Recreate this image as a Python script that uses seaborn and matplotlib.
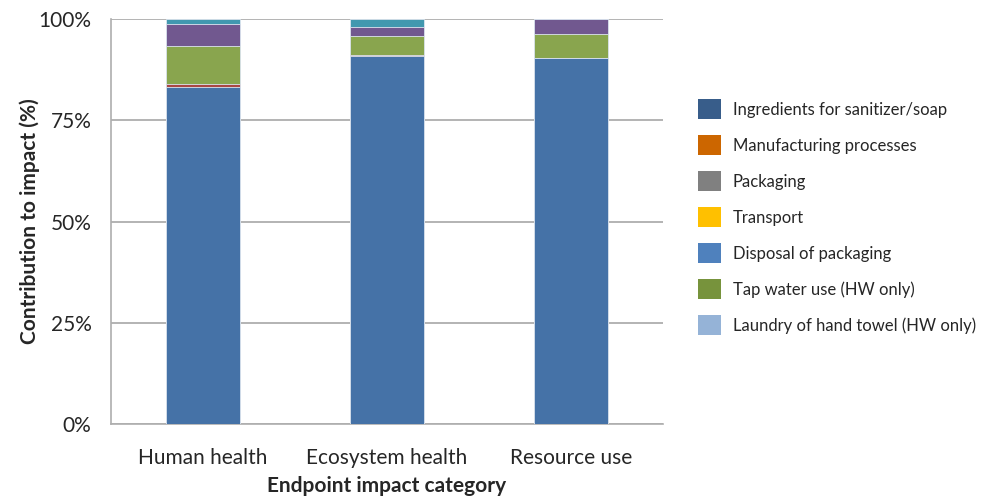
import numpy as np
import pandas as pd
import matplotlib
matplotlib.use('Agg')
import matplotlib.pyplot as plt
import seaborn as sns
from matplotlib.patches import Patch

# --- Data (share of endpoint impact, %) ---
categories = ['Human health', 'Ecosystem health', 'Resource use']
ingredients = [83.3, 90.8, 90.3]
manufacturing = [0.6, 0.4, 0.1]
packaging = [9.5, 4.7, 6.0]
transport = [5.4, 2.2, 3.6]
disposal = [1.2, 1.9, 0.0]

segment_names = ['Ingredients', 'Manufacturing', 'Packaging', 'Transport', 'Disposal']
segment_values = [ingredients, manufacturing, packaging, transport, disposal]
bar_colors = ['#4572A7', '#AA4643', '#89A54E', '#71588F', '#4198AF']

legend_labels = ['Ingredients for sanitizer/soap', 'Manufacturing processes', 'Packaging',
                 'Transport', 'Disposal of packaging', 'Tap water use (HW only)',
                 'Laundry of hand towel (HW only)']
legend_colors = ['#385D8A', '#CC6600', '#808080', '#FFC000', '#4F81BD', '#77933C', '#95B3D7']

sns.set_theme(style="white")
plt.rcParams['font.family'] = ['Lato', 'DejaVu Sans']

# cumulative tops, drawn from the top segment down so lower ones overlay
df = pd.DataFrame(dict(zip(segment_names, segment_values)), index=categories)
cum = df.cumsum(axis=1)

fig = plt.figure(figsize=(9.88, 4.97), dpi=100)
ax = fig.add_axes([111 / 988, 73 / 497, 552 / 988, 405 / 497])

for name, color in reversed(list(zip(segment_names, bar_colors))):
    sns.barplot(x=categories, y=cum[name].values, color=color, saturation=1, width=0.4,
                edgecolor='#dde6f0', linewidth=0.6, ax=ax, zorder=3)

ax.set_ylim(0, 100)
ax.set_xlim(-0.5, 2.5)
ax.set_yticks([0, 25, 50, 75, 100])
ax.set_yticklabels(['0%', '25%', '50%', '75%', '100%'], fontsize=15)
ax.tick_params(axis='x', labelsize=15, length=0, pad=17)
ax.tick_params(axis='y', length=0, pad=14)
ax.yaxis.grid(True, color='#AEAEAE', linewidth=1.3, zorder=0)
ax.set_axisbelow(True)
for s in ['top', 'right']:
    ax.spines[s].set_visible(False)
for s in ['left', 'bottom']:
    ax.spines[s].set_color('#AEAEAE')
    ax.spines[s].set_linewidth(1.2)

ax.set_xlabel('Endpoint impact category', fontsize=15, fontweight='bold', labelpad=6)
ax.set_ylabel('Contribution to impact (%)', fontsize=15, fontweight='bold', labelpad=-1)

handles = [Patch(facecolor=c, edgecolor='none') for c in legend_colors]
fig.legend(handles, legend_labels, loc='upper left', bbox_to_anchor=(683 / 988, 1 - 84 / 497),
           frameon=False, fontsize=12, handlelength=1.4, handleheight=1.5,
           labelspacing=0.94, handletextpad=0.7)

fig.savefig('out.png', dpi=100)
plt.close(fig)
